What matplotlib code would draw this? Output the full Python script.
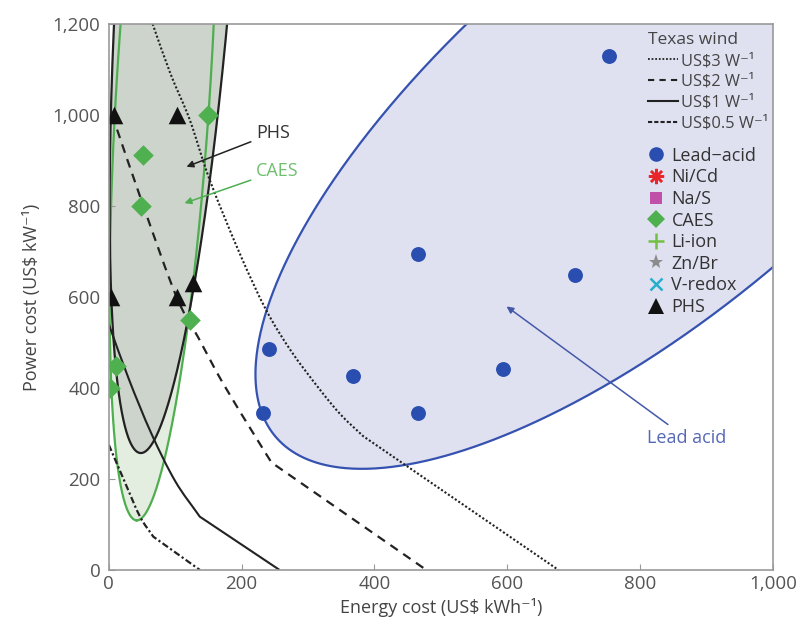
import numpy as np
import matplotlib
matplotlib.use("Agg")
import matplotlib.pyplot as plt
from matplotlib.lines import Line2D
from matplotlib.path import Path
from matplotlib.patches import PathPatch
from matplotlib.ticker import FuncFormatter

plt.rcParams['font.family'] = ['Open Sans', 'DejaVu Sans']

# ---------------- data ----------------
lead_x = [232, 242, 368, 466, 466, 594, 702, 753]
lead_y = [345, 485, 427, 345, 694, 442, 648, 1130]

caes_x = [150, 51, 49, 122, 11, 2]
caes_y = [1000, 912, 800, 549, 447, 400]

phs_x = [8, 102, 4, 102, 127]
phs_y = [1000, 1000, 600, 600, 630]

# envelope boundary readings (visible part of each envelope)
lead_env_x = [536, 468, 418, 368, 318, 268, 250, 235, 225, 221, 226, 237, 268, 318,
              398, 468, 569, 669, 744, 800, 890, 1000]
lead_env_y = [1200, 1099, 1004, 901, 805, 696, 630, 571, 491, 425, 359, 330, 271, 238,
              218, 231, 290, 348, 398, 440, 549, 664]

caes_env_x = [16, 9, 5.5, 2.5, 2, 4, 14, 22, 42, 62, 82, 102, 122, 132, 142, 149, 157]
caes_env_y = [1200, 989, 798, 623, 500, 374, 227, 147, 108, 154, 234, 352, 549, 696,
              842, 996, 1200]

phs_env_x = [1, 10, 22, 37, 45.6, 62, 82, 103, 122, 137, 152, 166, 179]
phs_env_y = [525, 450, 374, 278, 253, 271, 344, 454, 579, 703, 850, 1010, 1200]

# Texas wind iso-cost curves (last segment straight after the kink)
w3_x = [66, 93, 122, 152, 197, 237, 275, 318, 350, 383, 677]
w3_y = [1200, 1090, 989, 857, 696, 571, 480, 396, 340, 294, 0]
w2_x = [5, 52, 102, 135, 172, 222, 245, 478]
w2_y = [1000, 800, 600, 510, 410, 290, 236, 0]
w1_x = [0, 30, 64, 100, 137, 257]
w1_y = [540, 420, 300, 195, 117, 0]
w05_x = [0, 25, 47, 67, 137]
w05_y = [275, 190, 117, 73, 0]

xticks = [0, 200, 400, 600, 800, 1000]
yticks = [0, 200, 400, 600, 800, 1000, 1200]

SX, SY = 0.664, 0.455   # pixel per data unit (for isotropic fitting)


def fit_ellipse_alg(u, v):
    D1 = np.vstack([u * u, u * v, v * v]).T
    D2 = np.vstack([u, v, np.ones_like(u)]).T
    S1, S2, S3 = D1.T @ D1, D1.T @ D2, D2.T @ D2
    T = -np.linalg.inv(S3) @ S2.T
    M = S1 + S2 @ T
    C = np.array([[0, 0, 2], [0, -1, 0], [2, 0, 0]], dtype=float)
    w, V = np.linalg.eig(np.linalg.inv(C) @ M)
    V = V.real
    con = 4 * V[0] * V[2] - V[1] ** 2
    ak = V[:, np.nonzero(con > 0)[0][0]]
    A, B, Cc, D, E, F = np.concatenate([ak, T @ ak])
    c = np.linalg.solve([[2 * A, B], [B, 2 * Cc]], [-D, -E])
    Q = np.array([[A, B / 2], [B / 2, Cc]])
    K = c @ Q @ c - F
    ev, EV = np.linalg.eigh(Q)
    a, b = np.sqrt(K / ev[0]), np.sqrt(K / ev[1])
    th = np.arctan2(EV[1, 0], EV[0, 0])
    return np.array([c[0], c[1], a, b, th])


def ell_xy(p, t):
    cx, cy, a, b, th = p
    ct, st = np.cos(th), np.sin(th)
    x = cx + abs(a) * np.cos(t) * ct - abs(b) * np.sin(t) * st
    y = cy + abs(a) * np.cos(t) * st + abs(b) * np.sin(t) * ct
    return x, y


def nelder_mead(f, x0, step, iters=2500):
    n = len(x0)
    pts = [np.array(x0, float)]
    for i in range(n):
        q = np.array(x0, float)
        q[i] += step[i]
        pts.append(q)
    vals = [f(q) for q in pts]
    for _ in range(iters):
        order = np.argsort(vals)
        pts = [pts[i] for i in order]
        vals = [vals[i] for i in order]
        cen = np.mean(pts[:-1], axis=0)
        xr = cen + (cen - pts[-1])
        fr = f(xr)
        if fr < vals[0]:
            xe = cen + 2 * (cen - pts[-1])
            fe = f(xe)
            pts[-1], vals[-1] = (xe, fe) if fe < fr else (xr, fr)
        elif fr < vals[-2]:
            pts[-1], vals[-1] = xr, fr
        else:
            xc = cen + 0.5 * (pts[-1] - cen)
            fc = f(xc)
            if fc < vals[-1]:
                pts[-1], vals[-1] = xc, fc
            else:
                for i in range(1, n + 1):
                    pts[i] = pts[0] + 0.5 * (pts[i] - pts[0])
                    vals[i] = f(pts[i])
    return pts[int(np.argmin(vals))]


def ellipse_outline(xs, ys, n=900):
    u = np.asarray(xs, float) * SX
    v = np.asarray(ys, float) * SY
    p0 = fit_ellipse_alg(u, v)
    ts = np.linspace(0, 2 * np.pi, 720, endpoint=False)

    def cost(p):
        ex, ey = ell_xy(p, ts)
        d2 = (u[:, None] - ex[None, :]) ** 2 + (v[:, None] - ey[None, :]) ** 2
        return np.sum(d2.min(axis=1))

    scale = max(abs(p0[2]), abs(p0[3]))
    p = nelder_mead(cost, p0, [0.1 * scale, 0.1 * scale, 0.1 * abs(p0[2]),
                               0.1 * abs(p0[3]), 0.1])
    p = nelder_mead(cost, p, [0.03 * scale, 0.03 * scale, 0.03 * abs(p[2]),
                              0.03 * abs(p[3]), 0.03])
    t = np.linspace(0, 2 * np.pi, n)
    ex, ey = ell_xy(p, t)
    return ex / SX, ey / SY


def curve_path(xs, ys):
    """Smooth (Catmull-Rom) through the points, straight last segment after the kink."""
    P = np.column_stack([xs, ys]).astype(float)
    n = len(P)
    tin, tout = [None] * n, [None] * n
    for i in range(n):
        if i == 0:
            tout[i] = P[1] - P[0]
        elif i >= n - 2:
            tin[i] = P[i] - P[i - 1]
            if i < n - 1:
                tout[i] = P[i + 1] - P[i]
        else:
            tin[i] = tout[i] = (P[i + 1] - P[i - 1]) / 2
    verts, codes = [P[0]], [Path.MOVETO]
    for i in range(n - 1):
        verts += [P[i] + tout[i] / 3, P[i + 1] - tin[i + 1] / 3, P[i + 1]]
        codes += [Path.CURVE4] * 3
    return Path(verts, codes)


fig = plt.figure(figsize=(8.0, 6.29), dpi=100)
ax = fig.add_axes([0.136, 0.094, 0.830, 0.868])
ax.set_xlim(0, 1000)
ax.set_ylim(0, 1200)

# envelopes
lx, ly = ellipse_outline(lead_env_x, lead_env_y)
cx, cy = ellipse_outline(caes_env_x, caes_env_y)
px, py = ellipse_outline(phs_env_x, phs_env_y)
ax.fill(lx, ly, facecolor='#dfe1f1', edgecolor='none', zorder=1)
ax.plot(lx, ly, color='#3552b0', lw=1.6, zorder=1.5)
ax.fill(cx, cy, facecolor='#e4eee0', edgecolor='none', zorder=1)
ax.fill(px, py, facecolor='#cdd4cc', edgecolor='none', zorder=1.1)
ax.plot(cx, cy, color='#4fae4f', lw=1.6, zorder=1.6)
ax.plot(px, py, color='#222222', lw=1.6, zorder=1.6)

# wind curves
ax.add_patch(PathPatch(curve_path(w3_x, w3_y), facecolor='none', edgecolor='#222222',
                       lw=1.5, ls=(0, (1, 1)), zorder=2))
ax.add_patch(PathPatch(curve_path(w2_x, w2_y), facecolor='none', edgecolor='#222222',
                       lw=1.6, ls=(0, (4, 3)), zorder=2))
ax.add_patch(PathPatch(curve_path(w1_x, w1_y), facecolor='none', edgecolor='#222222',
                       lw=1.5, ls='-', zorder=2))
ax.add_patch(PathPatch(curve_path(w05_x, w05_y), facecolor='none', edgecolor='#222222',
                       lw=1.6, ls=(0, (3, 1.2, 1, 1.2)), zorder=2))

# markers
ax.scatter(lead_x, lead_y, s=115, color='#2a4db0', zorder=3, linewidths=0)
ax.scatter(caes_x, caes_y, s=110, marker='D', color='#4fb04f', zorder=3, linewidths=0)
ax.scatter(phs_x, phs_y, s=160, marker='^', color='#111111', zorder=3, linewidths=0)

# annotations
ax.annotate('PHS', xy=(117, 886), xytext=(222, 960), color='#333333', fontsize=13,
            va='center', ha='left',
            arrowprops=dict(arrowstyle='-|>', color='#222222', lw=1.1, mutation_scale=10,
                            shrinkA=2, shrinkB=0))
ax.annotate('CAES', xy=(114, 806), xytext=(222, 877), color='#6fbf6f', fontsize=13,
            va='center', ha='left',
            arrowprops=dict(arrowstyle='-|>', color='#4fae4f', lw=1.1, mutation_scale=10,
                            shrinkA=2, shrinkB=0))
ax.annotate('Lead acid', xy=(599, 579), xytext=(810, 290), color='#5567b5', fontsize=13,
            va='center', ha='left',
            arrowprops=dict(arrowstyle='-|>', color='#4458a8', lw=1.1, mutation_scale=10,
                            shrinkA=2, shrinkB=0))

# axes styling
for s in ax.spines.values():
    s.set_color('#999999')
    s.set_linewidth(1.2)
    s.set_zorder(4)
ax.set_xticks(xticks)
ax.set_yticks(yticks)
fmt = FuncFormatter(lambda v, p: f"{int(v):,}")
ax.xaxis.set_major_formatter(fmt)
ax.yaxis.set_major_formatter(fmt)
ax.tick_params(direction='in', length=4, color='#999999', labelcolor='#555555', labelsize=13.5)
ax.tick_params(axis='y', pad=6)
ax.tick_params(axis='x', pad=4)
ax.set_xlabel('Energy cost (US$ kWh⁻¹)', fontsize=13, color='#444444', labelpad=3)
ax.set_ylabel('Power cost (US$ kW⁻¹)', fontsize=13, color='#444444', labelpad=8)

# legends
line_handles = [
    Line2D([], [], color='#222222', lw=1.3, ls=(0, (1, 1))),
    Line2D([], [], color='#222222', lw=1.5, ls=(0, (3, 2.5))),
    Line2D([], [], color='#222222', lw=1.5, ls='-'),
    Line2D([], [], color='#222222', lw=1.5, ls=(0, (2, 1))),
]
line_labels = ['US$3 W⁻¹', 'US$2 W⁻¹', 'US$1 W⁻¹', 'US$0.5 W⁻¹']
leg1 = ax.legend(line_handles, line_labels, title='Texas wind', loc='upper left',
                 bbox_to_anchor=(0.812, 0.985), frameon=False, fontsize=11.8,
                 title_fontsize=12.5, handlelength=1.85, handletextpad=0.15,
                 labelspacing=0.3, borderpad=0, borderaxespad=0, alignment='left')
for t in leg1.get_texts():
    t.set_color('#444444')
leg1.get_title().set_color('#444444')
ax.add_artist(leg1)

mk_handles = [
    Line2D([], [], ls='none', marker='o', ms=10.5, color='#2a4db0', mew=0),
    Line2D([], [], ls='none', marker=(8, 2, 0), ms=11, color='#e8262a', mew=1.8),
    Line2D([], [], ls='none', marker='s', ms=9, color='#c050a8', mew=0),
    Line2D([], [], ls='none', marker='D', ms=9, color='#4fb04f', mew=0),
    Line2D([], [], ls='none', marker='+', ms=12, color='#72c045', mew=1.8),
    Line2D([], [], ls='none', marker='*', ms=11, color='#8c8c8c', mew=0),
    Line2D([], [], ls='none', marker='x', ms=9, color='#25aecb', mew=1.8),
    Line2D([], [], ls='none', marker='^', ms=11, color='#111111', mew=0),
]
mk_labels = ['Lead\u2212acid', 'Ni/Cd', 'Na/S', 'CAES', 'Li-ion', 'Zn/Br', 'V-redox', 'PHS']
leg2 = ax.legend(mk_handles, mk_labels, loc='upper left', bbox_to_anchor=(0.812, 0.775),
                 frameon=False, fontsize=13, handlelength=0.9, handletextpad=0.4,
                 labelspacing=0.2, borderpad=0, borderaxespad=0)
for t in leg2.get_texts():
    t.set_color('#333333')

fig.savefig('out.png', dpi=100)
